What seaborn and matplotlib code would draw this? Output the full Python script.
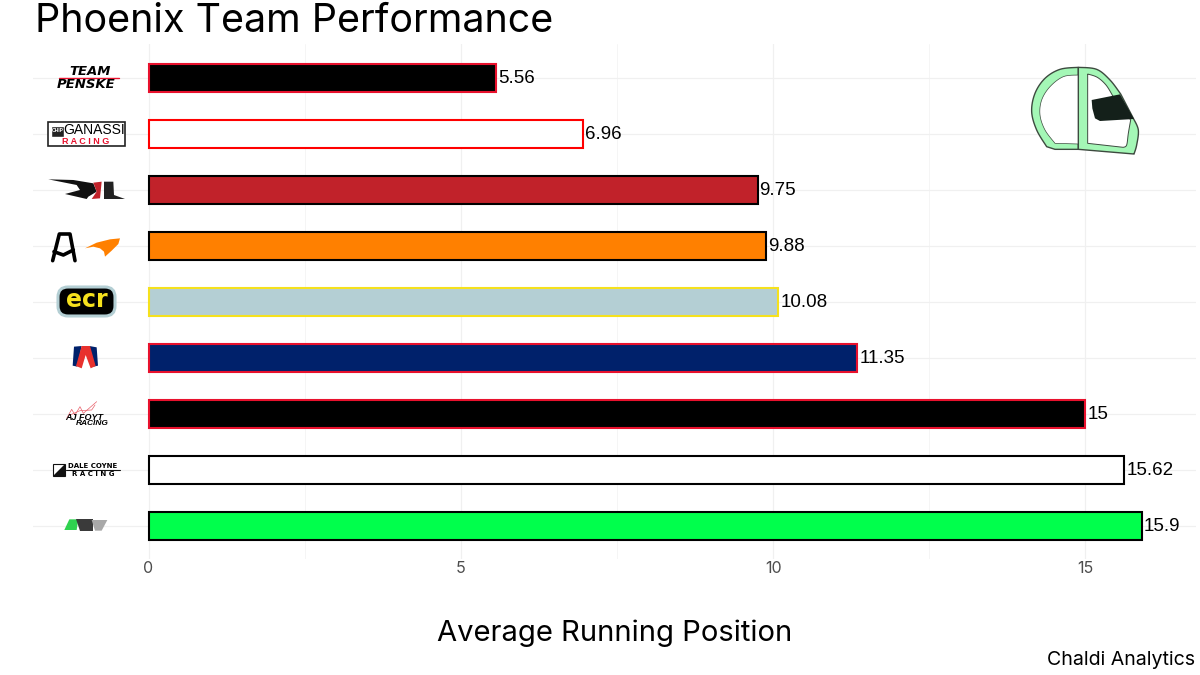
import seaborn as sns
import matplotlib.pyplot as plt
import pandas as pd
from matplotlib.patches import Polygon, Rectangle, FancyBboxPatch

teams = ["Team Penske", "Chip Ganassi Racing", "Rahal Letterman Lanigan", "Arrow McLaren",
         "Ed Carpenter Racing", "Andretti", "AJ Foyt Racing", "Dale Coyne Racing", "Meyer Shank Racing"]
avg_position = [5.56, 6.96, 9.75, 9.88, 10.08, 11.35, 15, 15.62, 15.9]
fill_colors = ["#000000", "#ffffff", "#c1222a", "#ff8000", "#b4cfd4", "#00216b", "#000000", "#ffffff", "#00ff4c"]
edge_colors = ["#e8112d", "#ff0000", "#000000", "#000000", "#f5e11d", "#e8112d", "#e8112d", "#000000", "#000000"]

df = pd.DataFrame({"team": teams, "avg": avg_position})

sns.set_theme(style="whitegrid")
plt.rcParams["font.family"] = ["Inter", "DejaVu Sans"]

fig = plt.figure(figsize=(12, 6.75), dpi=100)
ax = fig.add_axes([33 / 1200, 1 - 559.2 / 675, 1163 / 1200, 515.2 / 675])

sns.barplot(data=df, x="avg", y="team", hue="team", palette=fill_colors, order=teams, hue_order=teams,
            dodge=False, legend=False, width=0.5, linewidth=1.5, saturation=1, ax=ax)

for cont, ec, v in zip(ax.containers, edge_colors, avg_position):
    for bar in cont:
        bar.set_edgecolor(ec)
    labels = ax.bar_label(cont, labels=[f"{v:g}"], padding=1.5, fontsize=13.5, family="Liberation Sans", color="black")
    for t in labels:
        t.xyann = (t.xyann[0], -1)

ax.set_xlim(-1.85, 16.77)
ax.set_ylim(8.6, -0.6)
ax.set_xticks([0, 5, 10, 15])
ax.set_xticks([2.5, 7.5, 12.5], minor=True)
ax.grid(True, which="major", color="#f0f0f0", linewidth=0.9)
ax.grid(True, which="minor", axis="x", color="#f4f4f4", linewidth=0.6)
ax.set_axisbelow(True)
ax.tick_params(axis="x", which="both", length=0, labelsize=11.5, labelcolor="#4d4d4d", pad=1)
ax.tick_params(axis="y", length=0, labelleft=False)
ax.set_ylabel("")
ax.set_xlabel("")
sns.despine(ax=ax, left=True, bottom=True)

fig.text(35 / 1200, 1 - 32 / 675, "Phoenix Team Performance", fontsize=28.4, color="black", va="baseline")
fig.text(615 / 1200, 1 - 641 / 675, "Average Running Position", fontsize=21, color="black", ha="center", va="baseline")
fig.text(1195 / 1200, 1 - 665 / 675, "Chaldi Analytics", fontsize=14.1, color="black", ha="right", va="baseline")

# logos drawn on a pixel overlay
ov = fig.add_axes([0, 0, 1, 1], facecolor="none")
ov.set_xlim(0, 1200)
ov.set_ylim(675, 0)
ov.axis("off")


def poly(pts, origin, color, edge="none", lw=0):
    xy = [(origin[0] + x / 3, origin[1] + y / 3) for x, y in pts]
    ov.add_patch(Polygon(xy, closed=True, facecolor=color, edgecolor=edge, linewidth=lw))


def logo_text(x, y, s, size, color="black", family="Liberation Sans", **kw):
    ov.text(x, y, s, fontsize=size, color=color, ha="center", va="center", family=family, **kw)


def curve(pts, n=8):
    # catmull-rom through the given outline points
    p = [pts[0]] + pts + [pts[-1]]
    out = []
    for i in range(1, len(p) - 2):
        for k in range(n):
            t = k / n
            out.append(tuple(
                0.5 * (2 * p[i][c] + (p[i + 1][c] - p[i - 1][c]) * t
                       + (2 * p[i - 1][c] - 5 * p[i][c] + 4 * p[i + 1][c] - p[i + 2][c]) * t ** 2
                       + (3 * p[i][c] - p[i - 1][c] - 3 * p[i + 1][c] + p[i + 2][c]) * t ** 3)
                for c in (0, 1)))
    out.append(pts[-1])
    return out


# penske
logo_text(90, 71.5, "TEAM", 9.5, family="DejaVu Sans", weight="bold", style="italic")
ov.plot([59, 119], [78, 78], color="#e8112d", lw=1)
logo_text(86, 84.5, "PENSKE", 9.5, family="DejaVu Sans", weight="bold", style="italic")

# ganassi
ov.add_patch(Rectangle((47.5, 122), 77, 24, facecolor="white", edgecolor="#222222", linewidth=1.2))
ov.add_patch(Rectangle((51, 125.5), 13, 11, facecolor="#222222"))
logo_text(57.5, 131, "CHIP", 3.5, color="white", weight="bold")
logo_text(94, 130.5, "GANASSI", 10)
logo_text(86, 141, "R A C I N G", 6.5, color="#e8112d", weight="bold")

# rll
o = (30, 50)
poly([(55, 388), (130, 390), (190, 400), (200, 425), (175, 440), (170, 447), (105, 432), (150, 420), (140, 405)], o, "#111111")
poly([(190, 398), (215, 395), (210, 445), (185, 447), (200, 425)], o, "#c1222a")
poly([(222, 395), (250, 395), (252, 435), (285, 447), (222, 447)], o, "#222222")

# mclaren
o = (30, 220)
for seg in ([(68, 122), (88, 42), (120, 42), (135, 122)], [(72, 95), (100, 105), (130, 90)]):
    ov.plot([o[0] + p[0] / 3 for p in seg], [o[1] + p[1] / 3 for p in seg], color="black", lw=2.6,
            solid_capstyle="round", solid_joinstyle="round")
poly([(165, 85), (200, 68), (240, 58), (270, 55), (265, 72), (245, 92), (225, 110), (222, 95), (210, 85), (190, 80)], o, "#ff8000")

# ecr
ov.add_patch(FancyBboxPatch((58, 287), 57, 29, boxstyle="round,pad=0,rounding_size=10",
                            facecolor="black", edgecolor="#b4cfd4", linewidth=2.2))
logo_text(86.5, 300, "ecr", 17, color="#f5e11d", family="DejaVu Sans", weight="bold")

# andretti
poly([(132, 380), (155, 378), (142, 440), (128, 437)], o, "#00216b")
poly([(178, 378), (200, 382), (204, 437), (190, 440)], o, "#00216b")
poly([(155, 378), (180, 378), (197, 438), (182, 445), (167, 405), (155, 445), (138, 438)], o, "#e8312d")

# foyt
o = (30, 390)
for seg in ([(110, 85), (125, 58), (135, 75), (150, 50), (160, 70), (200, 35)],
            [(120, 75), (150, 62), (185, 60), (195, 45)]):
    ov.plot([o[0] + p[0] / 3 for p in seg], [o[1] + p[1] / 3 for p in seg], color="#e8606a", lw=0.5)
logo_text(84, 417.5, "AJ FOYT", 6.5, weight="bold", style="italic")
logo_text(92, 423.5, "RACING", 6, weight="bold", style="italic")

# coyne
ov.add_patch(Rectangle((53, 464), 12, 12, facecolor="white", edgecolor="#111111", linewidth=0.8))
poly([(105, 222), (105, 257), (68, 257)], o, "#111111")
logo_text(93, 466, "DALE COYNE", 5, family="DejaVu Sans", weight="bold")
ov.plot([66, 120], [469.5, 469.5], color="#111111", lw=0.8)
logo_text(93, 473.5, "R A C I N G", 5, family="DejaVu Sans", weight="bold")

# last logo
poly([(118, 388), (145, 388), (140, 420), (103, 420)], o, "#2fd24f")
poly([(138, 388), (190, 388), (190, 422), (150, 422)], o, "#3a3a3a")
poly([(185, 390), (232, 390), (215, 422), (195, 422)], o, "#a8a8a8")

# helmet
o = (1010, 50)
helmet_edge = "#3d4a3f"
left_arc = curve([(205, 52), (150, 58), (105, 85), (75, 130), (65, 185), (80, 240), (110, 290)])
left_in = curve([(205, 75), (160, 80), (120, 110), (95, 150), (90, 195), (105, 240), (135, 280)])
right_arc = curve([(205, 52), (260, 58), (300, 90), (332, 132)])
right_in = curve([(233, 72), (262, 82), (288, 105), (308, 137)])
tail = curve([(370, 205), (385, 240), (380, 285), (372, 312)])
tail_in = curve([(362, 210), (355, 250), (350, 285), (340, 292)])

poly(left_arc + [(135, 298), (205, 298)], o, "#a4f7b6", helmet_edge, 1)
poly(left_in + [(205, 282)], o, "white", helmet_edge, 0.5)
poly(right_arc + tail + [(205, 298)], o, "#a4f7b6", helmet_edge, 1)
poly(right_in + tail_in + [(233, 280)], o, "white", helmet_edge, 0.7)
poly([(245, 150), (330, 133), (372, 207), (270, 213), (255, 205), (247, 175)], o, "#14201a")

fig.savefig("out.png", dpi=100)
